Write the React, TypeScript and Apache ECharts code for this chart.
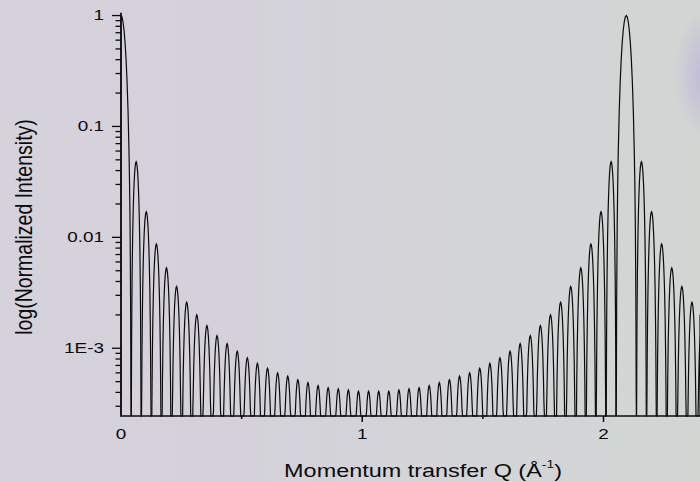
import React, { useEffect, useRef } from "react";
import * as echarts from "echarts";

// Momentum transfer (Å⁻¹) of every zero of the interference pattern; each
// fringe runs from one zero to the next.
const fringeZeros = [
  -0.0419, 0.0419, 0.0838, 0.1257, 0.1676, 0.2094, 0.2513, 0.2932, 0.3351, 0.377,
  0.4189, 0.4608, 0.5027, 0.5445, 0.5864, 0.6283, 0.6702, 0.7121, 0.754, 0.7959,
  0.8378, 0.8796, 0.9215, 0.9634, 1.0053, 1.0472, 1.0891, 1.131, 1.1729, 1.2147,
  1.2566, 1.2985, 1.3404, 1.3823, 1.4242, 1.4661, 1.508, 1.5499, 1.5917, 1.6336,
  1.6755, 1.7174, 1.7593, 1.8012, 1.8431, 1.885, 1.9268, 1.9687, 2.0106, 2.0525,
  2.1363, 2.1782, 2.2201, 2.2619, 2.3038, 2.3457, 2.3876, 2.4295,
];

// Normalized peak intensity of each fringe (the two Bragg peaks are 1).
const fringePeaks = [
  1,
  0.048, 0.017, 0.0087, 0.0053, 0.0036, 0.0026, 0.002, 0.0016, 0.0013, 0.0011,
  0.00094, 0.00082, 0.00073, 0.00066, 0.0006, 0.00056, 0.00052, 0.00049, 0.00046, 0.00044,
  0.00043, 0.00042, 0.00041, 0.00041,
  0.00041, 0.00041, 0.00042, 0.00043, 0.00044, 0.00046, 0.00049, 0.00052, 0.00056, 0.0006,
  0.00066, 0.00073, 0.00082, 0.00094, 0.0011, 0.0013, 0.0016, 0.002, 0.0026, 0.0036,
  0.0053, 0.0087, 0.017, 0.048,
  1,
  0.048, 0.017, 0.0087, 0.0053, 0.0036, 0.0026, 0.002,
];

const xLabelValues = [0, 1, 2];
const xMajorTicks = [1, 2];
const xMinorTicks = [0.5, 1.5];
const yLabelValues = [0.001, 0.01, 0.1, 1];
const yMinorTicks = [
  0.0003, 0.0004, 0.0005, 0.0006, 0.0007, 0.0008, 0.0009,
  0.002, 0.003, 0.004, 0.005, 0.006, 0.007, 0.008, 0.009,
  0.02, 0.03, 0.04, 0.05, 0.06, 0.07, 0.08, 0.09,
  0.2, 0.3, 0.4, 0.5, 0.6, 0.7, 0.8, 0.9,
];

const FONT = "'Liberation Sans', Arial, Helvetica, sans-serif";
const INK = "#0b0b0b";
// Lettering is drawn wide: horizontal scale applied to every text.
const TEXT_WIDEN = 1.26;

const X_MIN = 0;
const X_MAX = 2.4;
const Y_MIN = 2.45e-4;
const Y_MAX = 1.05;

// Outline of one fringe: [fraction across the fringe, decades below its top].
type Pt = [number, number];
const mirror = (half: Pt[]): Pt[] => [
  ...half,
  ...half.slice(0, -1).reverse().map(([u, d]) => [1 - u, d] as Pt),
];
const SIDE_OUTLINE = mirror([
  [0, 6], [0.01, 3.006], [0.02, 2.404], [0.03, 2.053], [0.05, 1.611], [0.07, 1.323],
  [0.1, 1.02], [0.15, 0.686], [0.2, 0.462], [0.25, 0.301], [0.3, 0.184], [0.35, 0.1],
  [0.4, 0.044], [0.45, 0.011], [0.5, 0],
]);
const MAIN_OUTLINE = mirror([
  [0, 6], [0.01, 3.381], [0.025, 2.561], [0.05, 1.923], [0.075, 1.539], [0.1, 1.262],
  [0.15, 0.869], [0.2, 0.594], [0.25, 0.392], [0.3, 0.242], [0.35, 0.133], [0.4, 0.058],
  [0.45, 0.014], [0.5, 0],
]);

const clamp = (v: number, lo: number, hi: number) => Math.min(hi, Math.max(lo, v));
const yLabelText = (v: number) => (v < 0.005 ? "1E-3" : String(v));

export default function App() {
  const ref = useRef<HTMLDivElement>(null);

  useEffect(() => {
    if (!ref.current) return;
    const chart = echarts.init(ref.current, undefined, {
      renderer: "svg",
      width: 700,
      height: 482,
    });

    chart.setOption({
      animation: false,
      grid: { left: 121, top: 13.2, width: 579.6, height: 402.8 },
      xAxis: {
        type: "value",
        min: X_MIN,
        max: X_MAX,
        axisLine: { show: true, onZero: false, lineStyle: { color: INK, width: 1.6 } },
        axisTick: { show: false },
        axisLabel: { show: false },
        splitLine: { show: false },
      },
      yAxis: {
        type: "log",
        logBase: 10,
        min: Y_MIN,
        max: Y_MAX,
        axisLine: { show: true, onZero: false, lineStyle: { color: INK, width: 1.6 } },
        axisTick: { show: false },
        axisLabel: { show: false },
        splitLine: { show: false },
      },
      series: [{ type: "line", data: [] }],
    });

    // Everything below is placed through the grid's own scales.
    const toPx = (x: number, y: number) =>
      chart.convertToPixel({ gridIndex: 0 }, [x, y]) as number[];

    // Fringes: parts beyond the frame are pressed onto its edges.
    const fringeEls = fringePeaks.map((peak, i) => {
      const q0 = fringeZeros[i];
      const q1 = fringeZeros[i + 1];
      const outline = peak >= 0.5 ? MAIN_OUTLINE : SIDE_OUTLINE;
      const points = outline.map(([u, d]) =>
        toPx(
          clamp(q0 + u * (q1 - q0), X_MIN, X_MAX),
          Math.max(peak * Math.pow(10, -d), Y_MIN)
        )
      );
      return {
        type: "polyline",
        shape: { points },
        style: { stroke: INK, lineWidth: 1.2, fill: "none" },
      };
    });

    const bar = (x: number, y: number, width: number, height: number) => ({
      type: "rect",
      shape: { x, y, width, height },
      style: { fill: INK },
    });
    const xTick = (v: number, len: number) => {
      const p = toPx(v, Y_MIN);
      return bar(p[0] - 0.75, p[1], 1.5, len);
    };
    const yTick = (v: number, len: number) => {
      const p = toPx(X_MIN, v);
      return bar(p[0] - len, p[1] - 0.65, len, 1.3);
    };
    const tickEls = [
      ...xMajorTicks.map((v) => xTick(v, 6)),
      ...xMinorTicks.map((v) => xTick(v, 3)),
      ...yLabelValues.map((v) => yTick(v, 9)),
      ...yMinorTicks.map((v) => yTick(v, 5.5)),
    ];

    const label = (
      text: string,
      x: number,
      y: number,
      align: string,
      verticalAlign: string
    ) => ({
      type: "text",
      x,
      y,
      scaleX: TEXT_WIDEN,
      style: {
        text,
        x: 0,
        y: 0,
        align,
        verticalAlign,
        fontSize: 15,
        fontFamily: FONT,
        fill: INK,
      },
    });
    const textEls = [
      ...xLabelValues.map((v) => {
        const p = toPx(v, Y_MIN);
        return label(String(v), p[0], p[1] + 11, "center", "top");
      }),
      ...yLabelValues.map((v) => {
        const p = toPx(X_MIN, v);
        return label(yLabelText(v), p[0] - 17, p[1], "right", "middle");
      }),
      {
        type: "text",
        x: 423,
        y: 470,
        scaleX: TEXT_WIDEN,
        style: {
          text: "{m|Momentum transfer Q (Å}{s|-1}{m|)}",
          x: 0,
          y: 0,
          align: "center",
          verticalAlign: "middle",
          fill: INK,
          rich: {
            m: { fontSize: 18.6, fontFamily: FONT, fill: INK, lineHeight: 22 },
            s: {
              fontSize: 11,
              fontFamily: FONT,
              fill: INK,
              lineHeight: 22,
              verticalAlign: "top",
            },
          },
        },
      },
      {
        type: "group",
        x: 23.5,
        y: 227,
        scaleX: TEXT_WIDEN,
        children: [
          {
            type: "text",
            rotation: Math.PI / 2,
            style: {
              text: "log(Normalized Intensity)",
              x: 0,
              y: 0,
              fontSize: 19.5,
              fontFamily: FONT,
              fill: INK,
              align: "center",
              verticalAlign: "middle",
            },
          },
        ],
      },
    ];

    chart.setOption({ graphic: [...fringeEls, ...tickEls, ...textEls] });

    return () => chart.dispose();
  }, []);

  return (
    <div
      style={{
        position: "fixed",
        left: 0,
        top: 0,
        width: 700,
        height: 482,
        background:
          "radial-gradient(ellipse 30px 64px at 704px 74px, rgba(176,156,222,0.5), rgba(176,156,222,0) 100%), " +
          "linear-gradient(90deg, #d6d2dc 0%, #d4d1da 35%, #d3d4d8 65%, #d1d6d3 100%)",
      }}
    >
      <div ref={ref} style={{ width: 700, height: 482 }} />
    </div>
  );
}
